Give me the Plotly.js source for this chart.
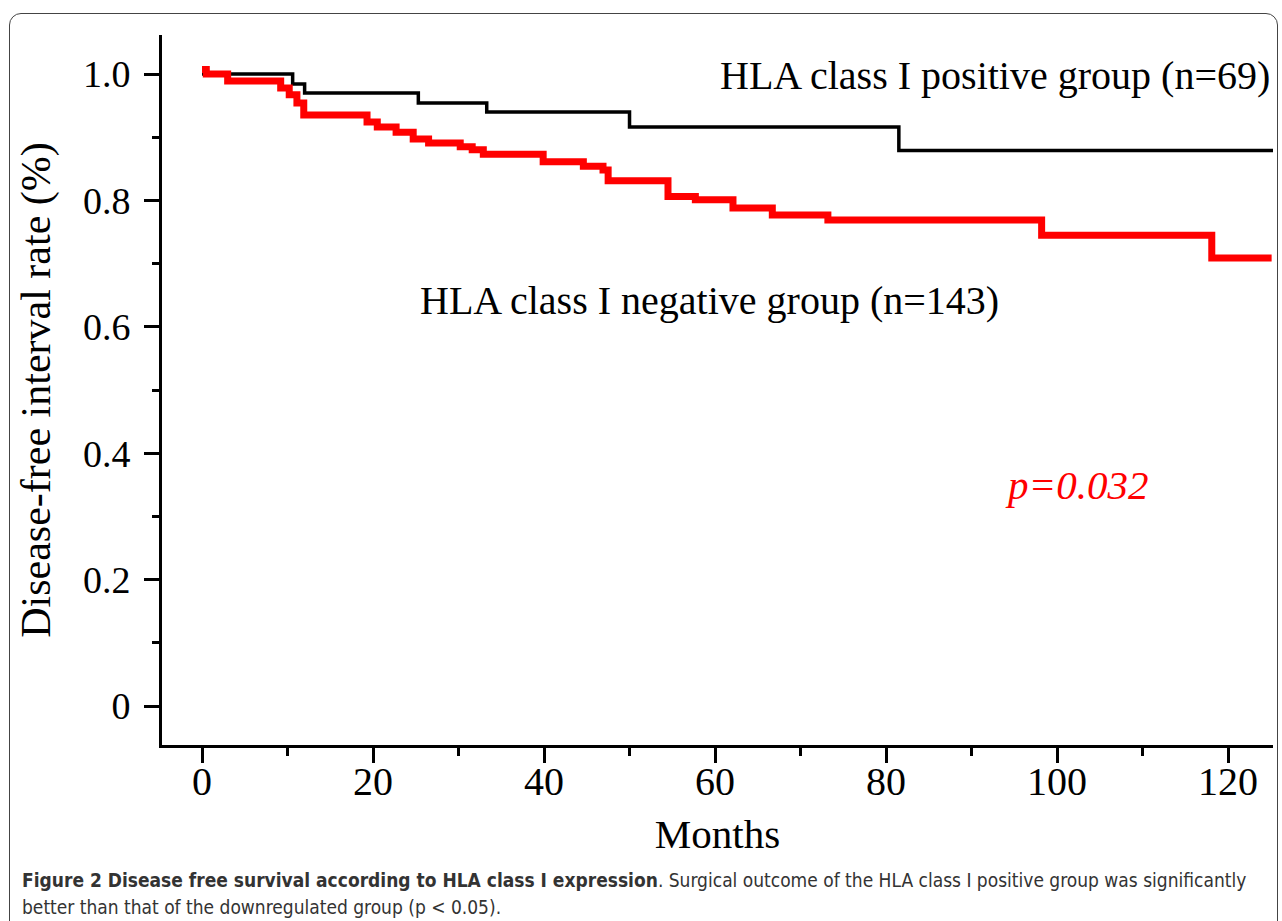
<!DOCTYPE html>
<html>
<head>
<meta charset="utf-8">
<script src="https://cdn.plot.ly/plotly-3.0.1.min.js"></script>
<style>
  html, body { margin: 0; padding: 0; background: #ffffff; overflow: hidden; }
  #frame { position: absolute; left: 9px; top: 13px; width: 1269px; height: 960px;
           border: 1.5px solid #444; border-radius: 12px; box-sizing: border-box; }
  #chart { position: absolute; left: 0; top: 0; width: 1282px; height: 921px; }
</style>
</head>
<body>
<div id="frame"></div>
<div id="chart"></div>
<script>
// HLA class I positive group (n=69)
const monthsPos = [0, 10.6, 12.0, 25.3, 33.3, 50.0, 81.5, 125.3];
const survPos   = [1.0, 0.984, 0.970, 0.954, 0.940, 0.916, 0.879, 0.879];

// HLA class I negative group (n=143)
const monthsNeg = [0, 0.5, 3.0, 9.2, 10.2, 11.1, 11.9, 19.3, 20.5, 22.7, 24.7, 26.5, 30.2, 31.6, 32.9,
                   39.9, 44.6, 46.9, 47.5, 54.5, 57.7, 62.1, 66.7, 73.2, 98.2, 118.1, 125.1];
const survNeg   = [1.007, 1.0, 0.989, 0.978, 0.967, 0.954, 0.935, 0.924, 0.916, 0.908, 0.897, 0.891, 0.885, 0.880, 0.873,
                   0.861, 0.854, 0.848, 0.831, 0.806, 0.801, 0.788, 0.777, 0.769, 0.745, 0.709, 0.709];

const xTickVals = [0, 20, 40, 60, 80, 100, 120];
const xTickText = ['0', '20', '40', '60', '80', '100', '120'];
const yTickVals = [0, 0.2, 0.4, 0.6, 0.8, 1.0];
const yTickText = ['0', '0.2', '0.4', '0.6', '0.8', '1.0'];

const labelPos = 'HLA class I positive group (n=69)';
const labelNeg = 'HLA class I negative group (n=143)';
const labelP = 'p=0.032';
const captionBold = 'Figure 2 Disease free survival according to HLA class I expression';
const captionRest1 = '. Surgical outcome of the HLA class I positive group was significantly';
const captionLine2 = 'better than that of the downregulated group (p &lt; 0.05).';

const serif = '"Liberation Serif", "Times New Roman", serif';
const capFont = '"Liberation Sans Narrow", "DejaVu Sans Condensed", "Open Sans", sans-serif';

const traces = [
  { x: monthsPos, y: survPos, type: 'scatter', mode: 'lines', line: { shape: 'hv', color: '#000000', width: 3.5 },
    name: labelPos, hoverinfo: 'skip' },
  { x: monthsNeg, y: survNeg, type: 'scatter', mode: 'lines', line: { shape: 'hv', color: '#ff0000', width: 7 },
    name: labelNeg, hoverinfo: 'skip' }
];

const layout = {
  width: 1282, height: 921,
  margin: { l: 162, r: 9, t: 35, b: 176, pad: 0 },
  paper_bgcolor: 'rgba(0,0,0,0)', plot_bgcolor: 'rgba(0,0,0,0)',
  showlegend: false,
  font: { family: serif, color: '#000' },
  xaxis: {
    range: [-4.68, 125.26], showgrid: false, zeroline: false,
    showline: true, linecolor: '#000', linewidth: 3,
    tickmode: 'array', tickvals: xTickVals, ticktext: xTickText,
    ticks: 'outside', ticklen: 15, tickwidth: 3, tickcolor: '#000',
    minor: { dtick: 10, tick0: 0, ticks: 'outside', ticklen: 8, tickwidth: 3, tickcolor: '#000', showgrid: false },
    tickfont: { family: serif, size: 40, color: '#000' },
    ticklabelstandoff: -16,
    title: { text: 'Months', font: { family: serif, size: 41, color: '#000' }, standoff: 17 }
  },
  yaxis: {
    range: [-0.0617, 1.0617], showgrid: false, zeroline: false,
    showline: true, linecolor: '#000', linewidth: 3,
    tickmode: 'array', tickvals: yTickVals, ticktext: yTickText,
    ticks: 'outside', ticklen: 15, tickwidth: 3, tickcolor: '#000',
    minor: { dtick: 0.1, tick0: 0, ticks: 'outside', ticklen: 7, tickwidth: 3, tickcolor: '#000', showgrid: false },
    tickfont: { family: serif, size: 38, color: '#000' },
    ticklabelstandoff: 6,
    title: { text: 'Disease-free interval rate (%)', font: { family: serif, size: 42, color: '#000' }, standoff: 20 }
  },
  annotations: [
    { x: 125.1, y: 0.997, xref: 'x', yref: 'y', xanchor: 'right', yanchor: 'middle', showarrow: false,
      text: labelPos, font: { family: serif, size: 40, color: '#000' } },
    { x: 25.3, y: 0.642, xref: 'x', yref: 'y', xanchor: 'left', yanchor: 'middle', showarrow: false,
      text: labelNeg, font: { family: serif, size: 40, color: '#000' } },
    { x: 93.7, y: 0.35, xref: 'x', yref: 'y', xanchor: 'left', yanchor: 'middle', showarrow: false,
      text: '<i>' + labelP + '</i>', font: { family: serif, size: 41, color: '#ff0000' } },
    { x: (20 - 162) / 1111, y: (745 - 880) / 710, xref: 'paper', yref: 'paper', xanchor: 'left', yanchor: 'middle',
      showarrow: false, align: 'left',
      text: '<b>' + captionBold + '</b>' + captionRest1, font: { family: capFont, size: 19, color: '#333' } },
    { x: (20 - 162) / 1111, y: (745 - 907) / 710, xref: 'paper', yref: 'paper', xanchor: 'left', yanchor: 'middle',
      showarrow: false, align: 'left',
      text: captionLine2, font: { family: capFont, size: 19, color: '#333' } }
  ]
};

Plotly.newPlot('chart', traces, layout, { displayModeBar: false, staticPlot: true });
</script>
</body>
</html>
